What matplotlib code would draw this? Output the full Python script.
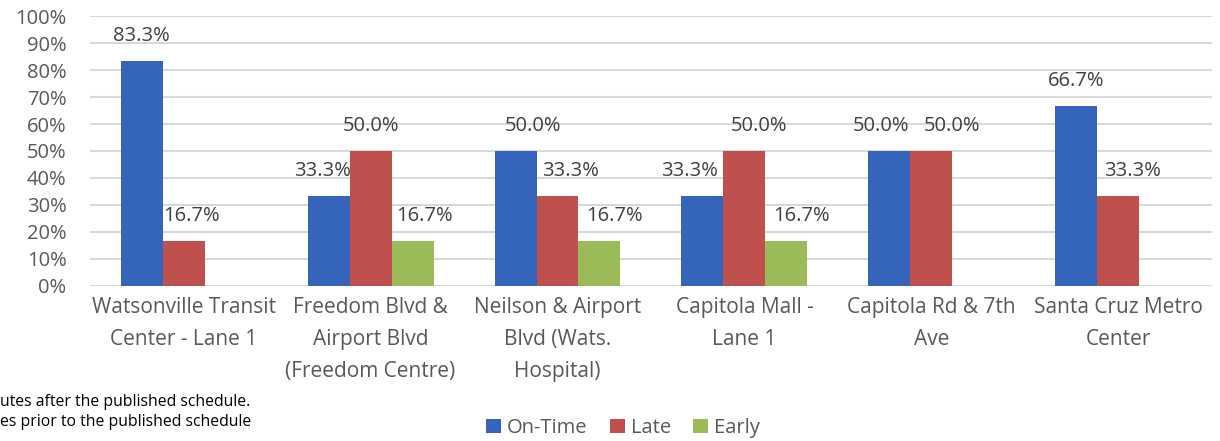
import numpy as np
import matplotlib
matplotlib.use("Agg")
import matplotlib.pyplot as plt
from matplotlib.ticker import PercentFormatter

# Data (percent of trips)
stops = ["Watsonville Transit\nCenter - Lane 1",
         "Freedom Blvd &\nAirport Blvd\n(Freedom Centre)",
         "Neilson & Airport\nBlvd (Wats.\nHospital)",
         "Capitola Mall -\nLane 1",
         "Capitola Rd & 7th\nAve",
         "Santa Cruz Metro\nCenter"]
on_time = [83.3, 33.3, 50.0, 33.3, 50.0, 66.7]
late = [16.7, 50.0, 33.3, 50.0, 50.0, 33.3]
early = [None, 16.7, 16.7, 16.7, None, None]

series = [("On-Time", on_time, "#3465BA"),
          ("Late", late, "#C0504D"),
          ("Early", early, "#9BBB59")]

# horizontal nudges (pixels) of the value labels, as placed in the original
nudge = [[0, -6, 17, -13, -8, 0],
         [8, 0, 13, 15, 21, 14],
         [0, 12, 15, 15, 0, 0]]

plt.rcParams['font.family'] = ['Open Sans', 'DejaVu Sans']

fig = plt.figure(figsize=(12.2, 4.41), dpi=100)
ax = fig.add_axes([0.0738, 0.3515, 0.9196, 0.6122])

x = np.arange(len(stops))
w = 0.2246
for i, (name, vals, col) in enumerate(series):
    v = np.array([np.nan if a is None else a for a in vals])
    bars = ax.bar(x + (i - 1) * w, v, w, color=col, label=name, zorder=3)
    for j, (b, val) in enumerate(zip(bars, v)):
        if np.isnan(val):
            continue
        ax.annotate(f"{val:.1f}%", (b.get_x() + b.get_width() / 2, val),
                    xytext=(nudge[i][j] * 0.72, 18), textcoords="offset points",
                    ha="center", va="center", fontsize=14.5, color="#404040")

ax.set_xlim(-0.5, len(stops) - 0.5)
ax.set_ylim(0, 100)
ax.set_yticks(np.arange(0, 101, 10))
ax.yaxis.set_major_formatter(PercentFormatter(decimals=0))
ax.grid(axis="y", color="#D9D9D9", lw=1.5, zorder=0)
for s in ax.spines.values():
    s.set_visible(False)
ax.tick_params(axis="both", length=0, labelsize=14.5, colors="#595959")
ax.tick_params(axis="y", pad=17)
ax.tick_params(axis="x", pad=8, labelsize=15)
ax.set_xticks(x)
ax.set_xticklabels(stops, linespacing=1.68)

fig.text(0.0, 1 - 402 / 441, "utes after the published schedule.", fontsize=11.3,
         color="black", va="center", ha="left")
fig.text(0.0, 1 - 422 / 441, "es prior to the published schedule", fontsize=11.3,
         color="black", va="center", ha="left")

fig.legend(loc="center", bbox_to_anchor=(623 / 1220, 1 - 428 / 441), ncol=3,
           frameon=False, fontsize=14.5, labelcolor="#595959",
           handlelength=0.75, handleheight=0.75, handletextpad=0.3, columnspacing=1.1)

fig.savefig("out.png", dpi=100)
